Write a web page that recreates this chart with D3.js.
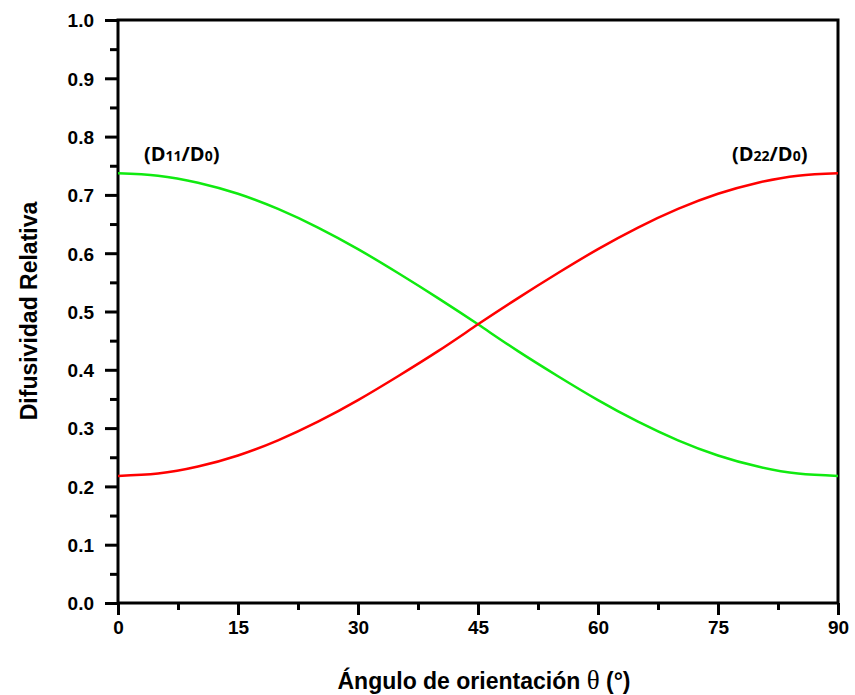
<!DOCTYPE html>
<html>
<head>
<meta charset="utf-8">
<title>Difusividad relativa</title>
<script src="https://d3js.org/d3.v7.min.js"></script>
<style>
  body { margin: 0; background: #fff; }
  svg { display: block; }
  .tick text { font-family: "Liberation Sans", Arial, sans-serif; font-weight: bold; font-size: 19px; fill: #000; }
  .curve { fill: none; stroke-width: 2.5px; }
</style>
</head>
<body>
<svg width="855" height="695"></svg>
<script>
// angle in degrees
var angles = [0, 5, 10, 15, 20, 25, 30, 35, 40, 45, 50, 55, 60, 65, 70, 75, 80, 85, 90];
// D11/D0 (green)
var d11 = [0.737, 0.733, 0.721, 0.702, 0.676, 0.644, 0.607, 0.566, 0.523, 0.478,
           0.432, 0.389, 0.348, 0.311, 0.279, 0.253, 0.234, 0.222, 0.218];
// D22/D0 (red)
var d22 = [0.218, 0.222, 0.234, 0.253, 0.279, 0.311, 0.348, 0.389, 0.432, 0.478,
           0.523, 0.566, 0.607, 0.644, 0.676, 0.702, 0.721, 0.733, 0.737];
var xTicks = [0, 15, 30, 45, 60, 75, 90];
var yTicks = [0.0, 0.1, 0.2, 0.3, 0.4, 0.5, 0.6, 0.7, 0.8, 0.9, 1.0];

var svg = d3.select("svg");
var pLeft = 118, pRight = 838, pTop = 20, pBottom = 603;

var x = d3.scaleLinear().domain([0, 90]).range([pLeft, pRight]);
var y = d3.scaleLinear().domain([0, 1]).range([pBottom, pTop]);

// minor ticks
var xMinor = d3.range(0, 91, 7.5).filter(function (v) { return xTicks.indexOf(v) < 0; });
var yMinor = d3.range(0.05, 1, 0.1);

svg.append("g").attr("transform", "translate(0," + pBottom + ")")
  .call(d3.axisBottom(x).tickValues(xMinor).tickSize(7).tickFormat(""))
  .call(function (g) { g.select(".domain").remove(); g.selectAll("line").attr("stroke-width", 3); });
svg.append("g").attr("transform", "translate(" + pLeft + ",0)")
  .call(d3.axisLeft(y).tickValues(yMinor).tickSize(8).tickFormat(""))
  .call(function (g) { g.select(".domain").remove(); g.selectAll("line").attr("stroke-width", 3); });

// major ticks
svg.append("g").attr("transform", "translate(0," + pBottom + ")")
  .call(d3.axisBottom(x).tickValues(xTicks).tickSize(12).tickPadding(6).tickFormat(d3.format("d")))
  .call(function (g) {
    g.select(".domain").remove();
    g.selectAll("line").attr("stroke-width", 3);
  });
svg.append("g").attr("transform", "translate(" + pLeft + ",0)")
  .call(d3.axisLeft(y).tickValues(yTicks).tickSize(13).tickPadding(11).tickFormat(d3.format(".1f")))
  .call(function (g) {
    g.select(".domain").remove();
    g.selectAll("line").attr("stroke-width", 3);
    g.selectAll("text").attr("dy", "0.36em");
  });

// frame
svg.append("rect")
  .attr("x", pLeft).attr("y", pTop)
  .attr("width", pRight - pLeft).attr("height", pBottom - pTop)
  .attr("fill", "none").attr("stroke", "#000").attr("stroke-width", 3);

var line = d3.line()
  .x(function (d, i) { return x(angles[i]); })
  .y(function (d) { return y(d); })
  .curve(d3.curveNatural);

svg.append("path").datum(d11).attr("class", "curve").attr("stroke", "#10ea10").attr("d", line);
svg.append("path").datum(d22).attr("class", "curve").attr("stroke", "#ff0000").attr("d", line);

// curve labels
function label(xPos, sub) {
  var t = svg.append("text")
    .attr("x", xPos).attr("y", 161)
    .attr("font-family", "'Open Sans', sans-serif")
    .attr("font-weight", "bold").attr("font-size", "20px");
  t.append("tspan").text("(D");
  t.append("tspan").attr("font-size", "14px").text(sub);
  t.append("tspan").text("/D");
  t.append("tspan").attr("font-size", "14px").text("0");
  t.append("tspan").text(")");
}
label(144, "11");
label(732, "22");

// axis titles
var xt = svg.append("text")
  .attr("x", 484).attr("y", 689)
  .attr("text-anchor", "middle")
  .attr("font-family", "'Liberation Sans', Arial, sans-serif")
  .attr("font-weight", "bold").attr("font-size", "23px");
xt.append("tspan").text("Ángulo de orientación ");
xt.append("tspan").attr("font-family", "'Liberation Serif', serif").attr("font-weight", "normal").attr("font-size", "27px").text("θ");
xt.append("tspan").text(" (°)");

svg.append("text")
  .attr("transform", "translate(37,311) rotate(-90)")
  .attr("text-anchor", "middle")
  .attr("font-family", "'Liberation Sans', Arial, sans-serif")
  .attr("font-weight", "bold").attr("font-size", "23px")
  .text("Difusividad Relativa");
</script>
</body>
</html>
